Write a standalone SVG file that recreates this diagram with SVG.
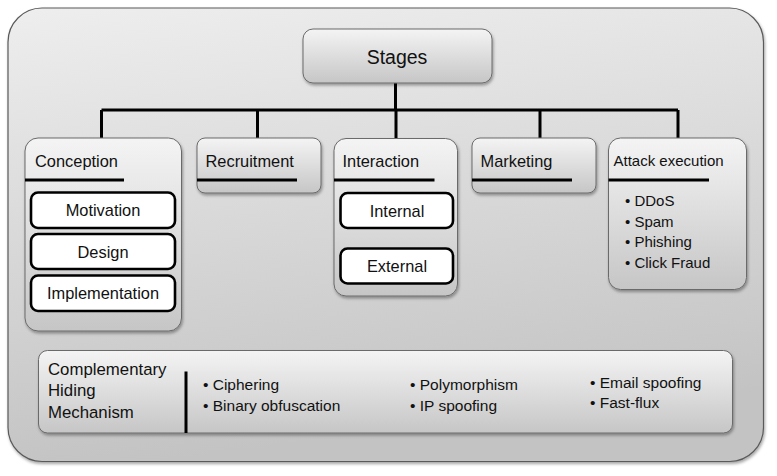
<svg xmlns="http://www.w3.org/2000/svg" width="777" height="476" viewBox="0 0 777 476">
<defs>
<linearGradient id="gFrame" x1="0" y1="0" x2="0.2" y2="1">
<stop offset="0" stop-color="#eeeeee"/><stop offset="1" stop-color="#c3c3c3"/>
</linearGradient>
<linearGradient id="gBox" x1="0" y1="0" x2="0" y2="1">
<stop offset="0" stop-color="#f4f4f4"/><stop offset="1" stop-color="#c6c6c6"/>
</linearGradient>
<filter id="sh" x="-10%" y="-10%" width="130%" height="140%">
<feDropShadow dx="1" dy="2" stdDeviation="1.5" flood-color="#000" flood-opacity="0.35"/>
</filter>
</defs>
<style>
.frame{fill:url(#gFrame);stroke:#5a5a5a;stroke-width:1.2}
.box{fill:url(#gBox);stroke:#6a6a6a;stroke-width:1}
.wbox{fill:#fff;stroke:#000;stroke-width:2.6}
.ul{stroke:#000;stroke-width:3;fill:none}
.conn{stroke:#000;stroke-width:3;fill:none}
text{font-family:"Liberation Sans",Arial,sans-serif;fill:#111}
.t{font-size:16.4px}
.c{text-anchor:middle}
.s{font-size:15px}
.b{font-size:15.5px}
</style>
<rect class="frame" x="8" y="8" width="755.5" height="453.5" rx="34" filter="url(#sh)"/>

<g id="connectors">
<path class="conn" d="M395.5 83 V110 M101.5 110 H678 M101.5 110 V138 M257.5 110 V138 M396 110 V138 M540 110 V138 M678 110 V138"/>
</g>

<g id="stages">
<rect class="box" x="303" y="29" width="189" height="54" rx="10" filter="url(#sh)"/>
<text class="c" x="397" y="63.5" font-size="19.5">Stages</text>
</g>

<g id="conception">
<rect class="box" x="25" y="138" width="156.5" height="193" rx="13" filter="url(#sh)"/>
<text class="t" x="35" y="166.5">Conception</text>
<line class="ul" x1="25" y1="180" x2="124" y2="180"/>
</g>
<g id="motivation">
<rect class="wbox" x="31" y="192.5" width="144" height="35.5" rx="7"/>
<text class="t c" x="103" y="216">Motivation</text>
</g>
<g id="design">
<rect class="wbox" x="31" y="234" width="144" height="35" rx="7"/>
<text class="t c" x="103" y="257.5">Design</text>
</g>
<g id="implementation">
<rect class="wbox" x="31" y="275.5" width="144" height="35.5" rx="7"/>
<text class="t c" x="103" y="298.5">Implementation</text>
</g>

<g id="recruitment">
<rect class="box" x="197" y="138" width="124" height="55" rx="8" filter="url(#sh)"/>
<text class="t" x="205.5" y="166.5">Recruitment</text>
<line class="ul" x1="197" y1="180" x2="297" y2="180"/>
</g>

<g id="interaction">
<rect class="box" x="334" y="138.5" width="123.5" height="157.5" rx="12" filter="url(#sh)"/>
<text class="t" x="342.5" y="166.5">Interaction</text>
<line class="ul" x1="334" y1="180" x2="434.5" y2="180"/>
</g>
<g id="internal">
<rect class="wbox" x="340.5" y="193" width="112.5" height="35" rx="7"/>
<text class="t c" x="397" y="216.5">Internal</text>
</g>
<g id="external">
<rect class="wbox" x="340.5" y="248.5" width="112.5" height="35" rx="7"/>
<text class="t c" x="397" y="271.5">External</text>
</g>

<g id="marketing">
<rect class="box" x="472" y="138" width="124" height="55" rx="8" filter="url(#sh)"/>
<text class="t" x="480.5" y="166.5">Marketing</text>
<line class="ul" x1="472" y1="180" x2="572" y2="180"/>
</g>

<g id="attack">
<rect class="box" x="608.5" y="138" width="138" height="151.5" rx="12" filter="url(#sh)"/>
<text class="s" x="613.5" y="166">Attack execution</text>
<line class="ul" x1="608.5" y1="180" x2="709" y2="180"/>
<text class="s" x="625" y="206">• DDoS</text>
<text class="s" x="625" y="226.7">• Spam</text>
<text class="s" x="625" y="247">• Phishing</text>
<text class="s" x="625" y="267.5">• Click Fraud</text>
</g>

<g id="hiding">
<rect class="box" x="38.5" y="350.5" width="694" height="82.5" rx="9" filter="url(#sh)"/>
<text x="48" y="375" font-size="16.8">Complementary</text>
<text x="48" y="396" font-size="16.8">Hiding</text>
<text x="48" y="417.5" font-size="16.8">Mechanism</text>
<line class="ul" x1="186" y1="371.5" x2="186" y2="433"/>
<text class="b" x="203" y="390">• Ciphering</text>
<text class="b" x="203" y="410.7">• Binary obfuscation</text>
<text class="b" x="410" y="390">• Polymorphism</text>
<text class="b" x="410" y="410.7">• IP spoofing</text>
<text class="b" x="590" y="387.5">• Email spoofing</text>
<text class="b" x="590" y="407.5">• Fast-flux</text>
</g>
</svg>
